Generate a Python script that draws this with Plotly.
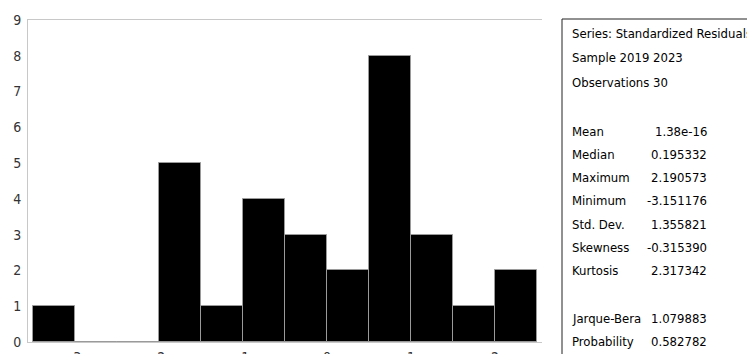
import plotly.graph_objects as go

# Histogram of standardized residuals (bin width 0.5)
bin_edges = [-3.5, -3.0, -2.5, -2.0, -1.5, -1.0, -0.5, 0.0, 0.5, 1.0, 1.5, 2.0, 2.5]
counts = [1, 0, 0, 5, 1, 4, 3, 2, 8, 3, 1, 2]

x_ticks = [-3, -2, -1, 0, 1, 2]
y_ticks = [0, 1, 2, 3, 4, 5, 6, 7, 8, 9]

header_lines = ["Series: Standardized Residuals", "Sample 2019 2023", "Observations 30"]
stat_names = ["Mean", "Median", "Maximum", "Minimum", "Std. Dev.", "Skewness", "Kurtosis"]
stat_values = ["1.38e-16", "0.195332", "2.190573", "-3.151176", "1.355821", "-0.315390", "2.317342"]
test_names = ["Jarque-Bera", "Probability"]
test_values = ["1.079883", "0.582782"]

centers = [(a + b) / 2 for a, b in zip(bin_edges[:-1], bin_edges[1:])]
widths = [b - a for a, b in zip(bin_edges[:-1], bin_edges[1:])]

FONT = "DejaVu Sans Condensed, Liberation Sans Narrow, Roboto Condensed, sans-serif"

fig = go.Figure()
fig.add_trace(go.Bar(
    x=centers, y=counts, width=widths,
    marker=dict(color="black", line=dict(color="#9a9a9a", width=1)),
    hoverinfo="x+y",
))

W, H = 747, 354
fig.update_layout(
    width=W, height=H,
    margin=dict(l=28, r=205, t=20, b=12),
    paper_bgcolor="white", plot_bgcolor="white",
    showlegend=False,
    bargap=0,
    font=dict(family=FONT, size=13, color="#333333"),
    xaxis=dict(
        range=[-3.56, 2.56], tickvals=x_ticks, ticktext=[str(v) for v in x_ticks],
        showgrid=False, zeroline=False, showline=True, linecolor="#c8c8c8",
        linewidth=1, mirror=True, ticks="", ticklabelstandoff=2, automargin=False,
        tickfont=dict(family=FONT, size=14, color="#333333"),
    ),
    yaxis=dict(
        range=[0, 9], tickvals=y_ticks, automargin=False,
        showgrid=False, zeroline=False, showline=True, linecolor="#c8c8c8",
        linewidth=1, ticks="", ticklabelstandoff=3,
        tickfont=dict(family=FONT, size=14, color="#333333"),
    ),
)

# Statistics panel
box_left = 562
fig.add_shape(type="rect", xref="paper", yref="paper",
              x0=(box_left - 28) / 514, x1=(W + 5 - 28) / 514,
              y0=(342 - H - 5) / 322, y1=(342 - 19) / 322,
              line=dict(color="#222222", width=1), fillcolor="rgba(0,0,0,0)")

def px_to_paper(px_x, px_y):
    return (px_x - 28) / 514, (342 - px_y) / 322

label_x = 570
value_right = 709

def add_text(txt, px_x, px_y, anchor="left"):
    xx, yy = px_to_paper(px_x, px_y)
    fig.add_annotation(text=txt, x=xx, y=yy, xref="paper", yref="paper",
                       xanchor=anchor, yanchor="middle", showarrow=False,
                       font=dict(family=FONT, size=13, color="black"))

for i, line in enumerate(header_lines):
    add_text(line, label_x, 33 + i * 24.5)

for i, (n, v) in enumerate(zip(stat_names, stat_values)):
    y = 131 + i * 23.3
    add_text(n, label_x, y)
    add_text(v, value_right, y, anchor="right")

for i, (n, v) in enumerate(zip(test_names, test_values)):
    y = 318 + i * 23.3
    add_text(n, label_x, y)
    add_text(v, value_right, y, anchor="right")

fig.write_html("out.html")
